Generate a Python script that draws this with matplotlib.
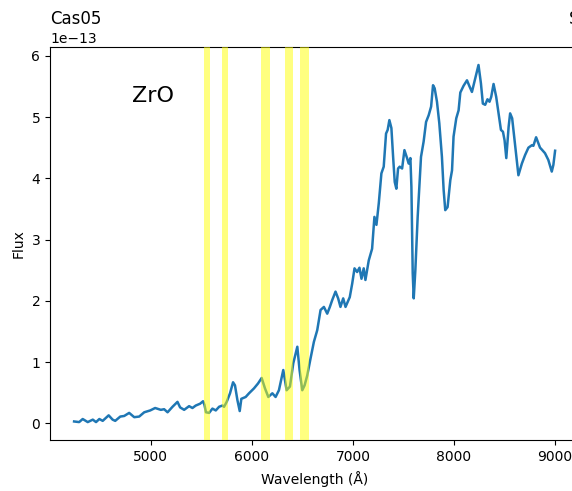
import matplotlib
matplotlib.use("Agg")
import matplotlib.pyplot as plt
import numpy as np

# Spectrum (flux in units of 1e-13)
wavelength = [
    4240, 4290, 4325, 4375, 4425, 4457, 4490, 4523, 4582, 4621, 4647, 4697,
    4736, 4785, 4835, 4884, 4934, 4993, 5042, 5098, 5131, 5165, 5214, 5263,
    5289, 5329, 5378, 5411, 5444, 5487, 5516, 5530, 5545, 5576, 5609, 5642,
    5675, 5708, 5724, 5750, 5783, 5813, 5832, 5856, 5879, 5895, 5938, 5971,
    6020, 6060, 6096, 6129, 6162, 6202, 6234, 6267, 6310, 6343, 6376, 6409,
    6449, 6471, 6498, 6521, 6547, 6580, 6613, 6646, 6679, 6712, 6745, 6771,
    6794, 6827, 6853, 6876, 6903, 6926, 6968, 6992, 7015, 7041, 7064, 7084,
    7106, 7123, 7156, 7189, 7212, 7232, 7255, 7281, 7304, 7327, 7343, 7360,
    7380, 7397, 7413, 7429, 7446, 7462, 7486, 7509, 7535, 7551, 7568, 7578,
    7591, 7601, 7617, 7640, 7673, 7699, 7723, 7749, 7773, 7792, 7808, 7831,
    7854, 7880, 7897, 7913, 7936, 7963, 7980, 7995, 8022, 8045, 8062, 8094,
    8128, 8153, 8177, 8210, 8242, 8266, 8285, 8308, 8331, 8351, 8368, 8391,
    8417, 8440, 8464, 8484, 8500, 8517, 8540, 8555, 8575, 8595, 8614, 8637,
    8671, 8703, 8736, 8770, 8785, 8812, 8835, 8851, 8868, 8900, 8933, 8967,
    8983, 9000,
]
flux = [
    0.03, 0.02, 0.07, 0.02, 0.06, 0.02, 0.07, 0.04, 0.13, 0.06, 0.04, 0.11,
    0.12, 0.17, 0.10, 0.11, 0.18, 0.21, 0.25, 0.22, 0.23, 0.18, 0.27, 0.35,
    0.26, 0.22, 0.28, 0.25, 0.29, 0.32, 0.36, 0.30, 0.18, 0.17, 0.24, 0.21,
    0.27, 0.29, 0.27, 0.35, 0.49, 0.67, 0.62, 0.38, 0.20, 0.40, 0.43, 0.49,
    0.57, 0.65, 0.74, 0.57, 0.43, 0.49, 0.43, 0.54, 0.87, 0.54, 0.60, 0.98,
    1.25, 0.87, 0.54, 0.62, 0.78, 1.06, 1.33, 1.52, 1.85, 1.90, 1.79, 1.90,
    2.01, 2.15, 2.04, 1.90, 2.04, 1.90, 2.06, 2.28, 2.53, 2.47, 2.54, 2.36,
    2.53, 2.34, 2.66, 2.85, 3.37, 3.24, 3.59, 4.08, 4.19, 4.73, 4.79, 4.95,
    4.82, 4.35, 3.94, 3.83, 4.16, 4.19, 4.16, 4.46, 4.33, 4.24, 4.33, 3.86,
    2.45, 2.04, 2.50, 3.37, 4.35, 4.60, 4.92, 5.03, 5.17, 5.52, 5.47, 5.25,
    4.90, 4.35, 3.81, 3.48, 3.53, 3.97, 4.13, 4.68, 4.98, 5.11, 5.40, 5.51,
    5.60, 5.50, 5.41, 5.63, 5.85, 5.55, 5.22, 5.20, 5.29, 5.25, 5.33, 5.54,
    5.33, 5.06, 4.79, 4.76, 4.62, 4.33, 4.84, 5.06, 4.98, 4.68, 4.41, 4.05,
    4.24, 4.38, 4.50, 4.54, 4.53, 4.67, 4.57, 4.50, 4.47, 4.41, 4.30, 4.11,
    4.22, 4.45,
]

# ZrO band regions (Angstrom)
band_start = [5530, 5705, 6090, 6325, 6475]
band_end = [5585, 5760, 6178, 6410, 6560]

fig = plt.figure(figsize=(5.72, 4.91), dpi=100)
ax = fig.add_axes([0.0875, 0.104, 0.925, 0.800])

ax.plot(wavelength, np.array(flux) * 1e-13, color="#1f77b4", lw=1.8)
# bands sit on top of the spectrum, so the line shows through greenish
for lo, hi in zip(band_start, band_end):
    ax.axvspan(lo, hi, color="yellow", alpha=0.5, lw=0, zorder=3)

ax.text(4810, 5.25e-13, "ZrO", fontsize=16)
ax.set_xlabel("Wavelength (Å)", labelpad=5)
ax.set_ylabel("Flux")
ax.set_title("Cas05", loc="left")
ax.set_title("S", loc="right")

fig.savefig("out.png", dpi=100)
